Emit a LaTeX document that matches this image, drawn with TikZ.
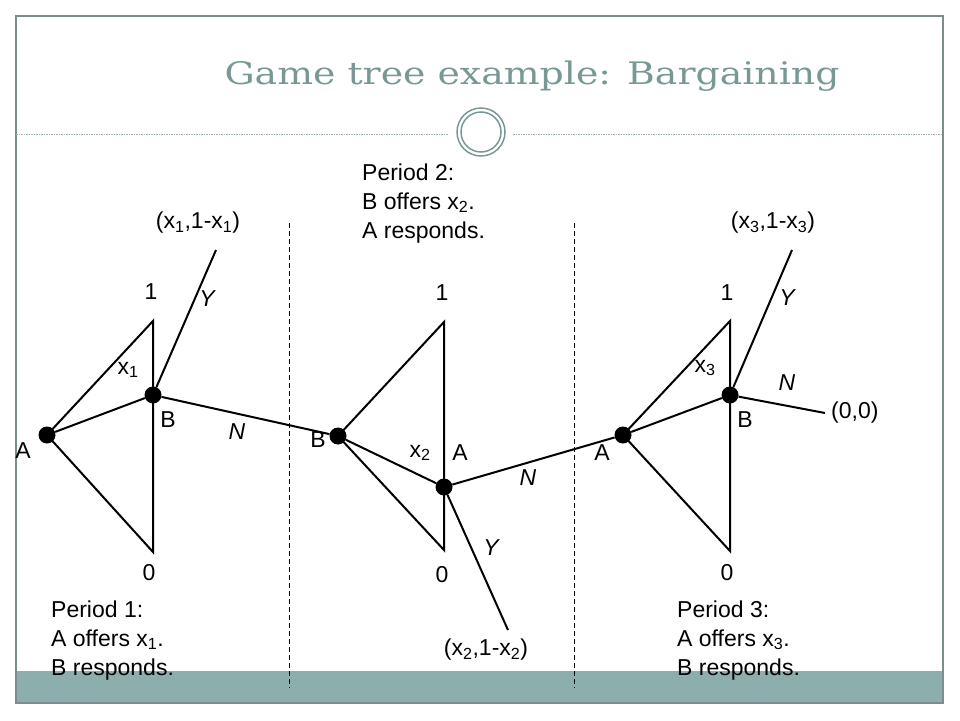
\documentclass[tikz,border=0pt]{standalone}
\usepackage{fontspec}
\setmainfont{Liberation Sans}
\newfontfamily\titlefont{DejaVu Serif}

\definecolor{bandteal}{RGB}{140,174,172}
\definecolor{titlegray}{RGB}{120,152,150}
\definecolor{framegray}{RGB}{122,142,142}

\tikzset{
  dot/.style={circle,fill=black,inner sep=0pt,minimum size=17pt},
  branch/.style={line width=2pt},
  lbl/.style={inner sep=0pt,font=\fontsize{23}{29}\selectfont},
  act/.style={lbl,font=\fontsize{23}{29}\selectfont\itshape},
  period/.style={lbl,anchor=base west,align=left},
  divider/.style={line width=0.8pt,dash pattern=on 5pt off 3pt},
}
\newcommand{\xs}[1]{x\textsubscript{#1}}

\begin{document}
\begin{tikzpicture}[x=1pt,y=-1pt]
\useasboundingbox (0,0) rectangle (960,720);
% slide
\fill[bandteal] (16,671) rectangle (943,703);
\draw[framegray,line width=1.5pt] (16,16) rectangle (943,703);
\node[anchor=base,inner sep=0pt,text=titlegray,font=\titlefont\fontsize{31}{37}\selectfont] (title) at (532,84) {\scalebox{1.22}[1]{Game tree example: Bargaining}};
\draw[framegray!70,line width=0.8pt,dash pattern=on 1.5pt off 1pt] (16,134) -- (448,134);
\draw[framegray!70,line width=0.8pt,dash pattern=on 1.5pt off 1pt] (513,134) -- (943,134);
\draw[titlegray,line width=1.5pt] (481,132) circle (24);
\draw[titlegray,line width=1.5pt] (481,132) circle (20);
% period borders
\draw[divider] (289,223) -- (289,688);
\draw[divider] (574,223) -- (574,688);
% decision nodes
\node[dot] (A1) at (47,435) {};
\node[dot] (B1) at (153,395) {};
\node[dot] (B2) at (338,436) {};
\node[dot] (A2) at (444,487) {};
\node[dot] (A3) at (623,435) {};
\node[dot] (B3) at (730,395) {};
% ends
\coordinate (t1) at (153,321);
\coordinate (b1) at (153,552);
\coordinate (y1) at (216,250);
\coordinate (t2) at (444,322);
\coordinate (b2) at (444,550);
\coordinate (y2) at (508,630);
\coordinate (t3) at (730,321);
\coordinate (b3) at (730,551);
\coordinate (y3) at (792,250);
\coordinate (n3) at (825,413);
% period 1
\draw[branch] (A1.center) -- (t1) -- (b1) -- cycle;
\draw[branch] (A1) -- (B1);
\draw[branch] (B1) -- (y1);
\draw[branch] (B1) -- (B2);
\node[lbl] (one1) at (151,292) {1};
\node[lbl] (zero1) at (149,573) {0};
\node[lbl] (off1) at (128,370) {\xs1};
\node[lbl] (nameB1) at (168,420) {B};
\node[lbl] (nameA1) at (23,451) {A};
\node[act] (no1) at (237,432) {N};
\node[act] (yes1) at (207,299) {Y};
\node[lbl] (pay1) at (198,223) {(\xs1,1-\xs1)};
\node[period] (per1) at (51,675) {Period 1:\\A offers \xs1.\\B responds.};
% period 2
\draw[branch] (B2.center) -- (t2) -- (b2) -- cycle;
\draw[branch] (B2) -- (A2);
\draw[branch] (A2) -- (y2);
\draw[branch] (A2) -- (A3);
\node[lbl] (one2) at (442,293) {1};
\node[lbl] (zero2) at (442,575) {0};
\node[lbl] (off2) at (420,453) {\xs2};
\node[lbl] (nameA2) at (460,453) {A};
\node[lbl] (nameB2) at (318,440) {B};
\node[act] (no2) at (528,478) {N};
\node[act] (yes2) at (491,548) {Y};
\node[lbl] (pay2) at (486,650) {(\xs2,1-\xs2)};
\node[period] (per2) at (362,238) {Period 2:\\B offers \xs2.\\A responds.};
% period 3
\draw[branch] (A3.center) -- (t3) -- (b3) -- cycle;
\draw[branch] (A3) -- (B3);
\draw[branch] (B3) -- (y3);
\draw[branch] (B3) -- (n3);
\node[lbl] (one3) at (727,293) {1};
\node[lbl] (zero3) at (727,573) {0};
\node[lbl] (off3) at (705,368) {\xs3};
\node[lbl] (nameB3) at (745,420) {B};
\node[lbl] (nameA3) at (602,453) {A};
\node[act] (no3) at (787,383) {N};
\node[act] (yes3) at (787,298) {Y};
\node[lbl,anchor=west] (pay0) at (831,413) {(0,0)};
\node[lbl] (pay3) at (773,223) {(\xs3,1-\xs3)};
\node[period] (per3) at (677,675) {Period 3:\\A offers \xs3.\\B responds.};
\end{tikzpicture}
\end{document}
